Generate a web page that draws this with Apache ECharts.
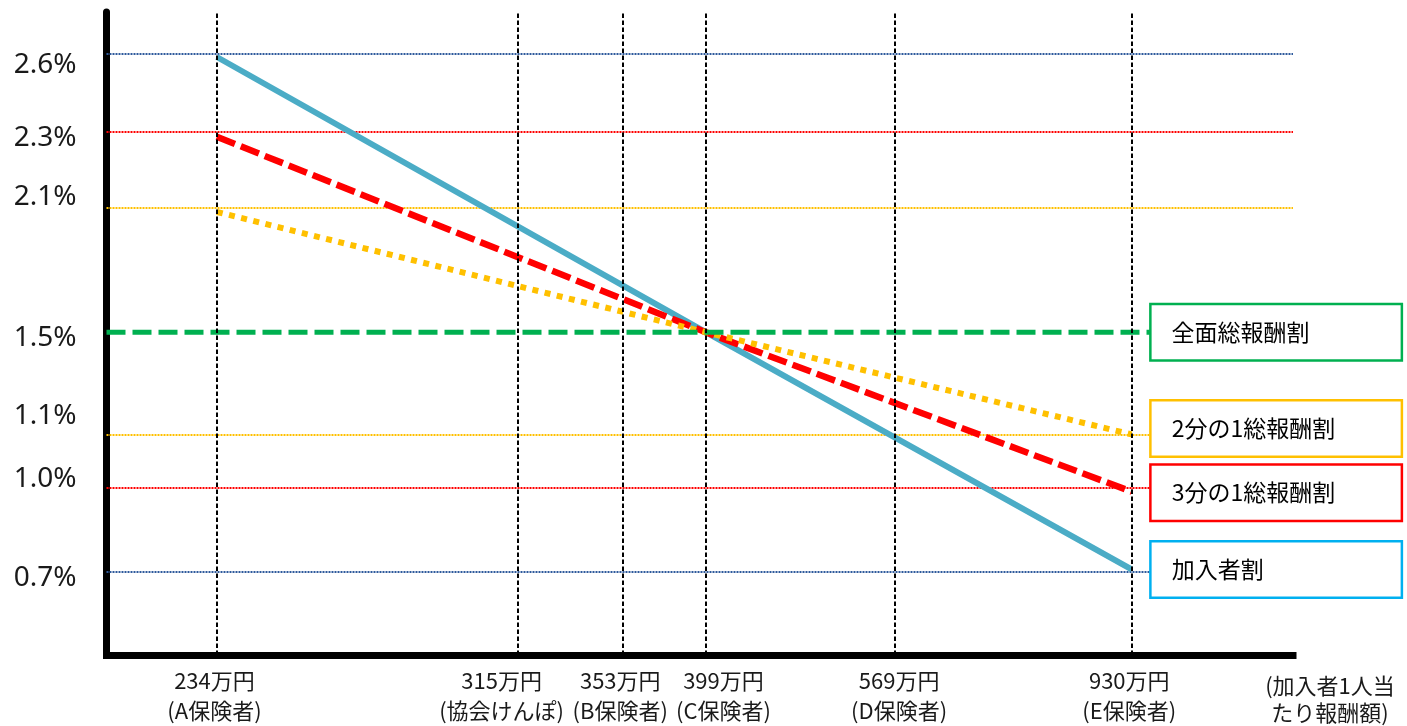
<!DOCTYPE html>
<html>
<head>
<meta charset="utf-8">
<script src="https://cdn.jsdelivr.net/npm/echarts@6/dist/echarts.min.js"></script>
<style>
html,body{margin:0;padding:0;background:#fff;}
#chart{width:1407px;height:726px;}
</style>
</head>
<body>
<div id="chart"></div>
<script>
// Schematic chart: both axes are drawn out of scale in the original, so values are
// positions read off the picture on 0–100 schematic axes.
const incomeLabels = ['234万円\n(A保険者)', '315万円\n(協会けんぽ)', '353万円\n(B保険者)', '399万円\n(C保険者)', '569万円\n(D保険者)', '930万円\n(E保険者)'];
const incomeX = [9.3, 34.7, 43.5, 50.5, 66.4, 86.4];
const incomeLabelX = [9.1, 33.3, 43.3, 52.0, 66.8, 86.2];
const xAxisName = '(加入者1人当\nたり報酬額)';

const rateLabels = ['2.6%', '2.3%', '2.1%', '1.5%', '1.1%', '1.0%', '0.7%'];
const rateLevels = [93.5, 81.3, 69.5, 50.2, 34.3, 26.0, 13.0];
const rateLabelLevels = [91.8, 80.4, 71.3, 49.3, 37.1, 27.3, 12.0];

const seriesNames = ['加入者割', '3分の1総報酬割', '2分の1総報酬割', '全面総報酬割'];
const kanyushaWari = [[9.3, 93.0], [50.5, 50.2], [86.4, 13.3]];
const sanbunNoIchi = [[9.3, 80.6], [50.5, 50.2], [86.4, 25.4]];
const nibunNoIchi = [[9.3, 68.9], [50.5, 50.2], [86.4, 34.3]];
const zenmen = [[0, 50.2], [88, 50.2]];

// styles
const FONT_JP = '"Noto Sans CJK JP", sans-serif';
const refColors = ['#2e5a9c', '#ff0000', '#ffc000', null, '#ffc000', '#ff0000', '#2e5a9c'];

function findIdx(arr, v) {
  for (let i = 0; i < arr.length; i++) if (Math.abs(arr[i] - v) < 1e-6) return i;
  return -1;
}

function boxLabel(border, distance, dy) {
  return {
    show: true,
    formatter: p => p.seriesName,
    distance: distance,
    offset: [0, dy || 0],
    color: '#000',
    fontSize: 23,
    fontFamily: FONT_JP,
    backgroundColor: '#fff',
    borderColor: border,
    borderWidth: 2.5,
    padding: [15, 0, 15, 20],
    width: 229,
    lineHeight: 24,
    align: 'left'
  };
}

const chart = echarts.init(document.getElementById('chart'));
chart.setOption({
  animation: false,
  grid: { left: 106.5, right: 114, top: 12, bottom: 70.5 },
  xAxis: {
    type: 'value', min: 0, max: 100,
    name: xAxisName,
    nameLocation: 'end',
    nameGap: 37,
    nameTextStyle: {
      align: 'center', verticalAlign: 'top', padding: [17, 0, 0, 0],
      fontSize: 22, lineHeight: 27, fontFamily: FONT_JP, color: '#1a1a1a'
    },
    axisLine: { onZero: false, lineStyle: { color: '#000', width: 7, cap: 'square' } },
    axisTick: { show: false },
    splitLine: { show: false },
    axisLabel: {
      customValues: incomeLabelX,
      formatter: v => { const i = findIdx(incomeLabelX, v); return i >= 0 ? incomeLabels[i] : ''; },
      margin: 11, lineHeight: 30, fontSize: 22, fontFamily: FONT_JP, color: '#1a1a1a'
    }
  },
  yAxis: {
    type: 'value', min: 0, max: 100,
    axisLine: { show: true, onZero: false, lineStyle: { color: '#000', width: 7 } },
    axisTick: { show: false },
    splitLine: { show: false },
    axisLabel: {
      customValues: rateLabelLevels,
      formatter: v => { const i = findIdx(rateLabelLevels, v); return i >= 0 ? rateLabels[i] : ''; },
      margin: 30, fontSize: 28, fontFamily: '"Noto Sans", sans-serif', color: '#1a1a1a'
    }
  },
  series: [
    {
      type: 'line', name: 'refLines', data: [], silent: true, z: 1,
      markLine: {
        silent: true, z: 1, symbol: ['none', 'none'], label: { show: false },
        emphasis: { disabled: true },
        data: rateLevels.map((lv, i) => ({ yAxis: lv, lineStyle: { color: refColors[i] } }))
          .filter((d, i) => refColors[i] !== null),
        lineStyle: { width: 2, type: [2, 1] }
      }
    },
    {
      type: 'line', name: seriesNames[0], data: kanyushaWari, symbol: 'none', z: 2,
      lineStyle: { color: '#4bacc6', width: 6, cap: 'butt' },
      endLabel: boxLabel('#00b0f0', 20), silent: true
    },
    {
      type: 'line', name: seriesNames[1], data: sanbunNoIchi, symbol: 'none', z: 3,
      lineStyle: { color: '#ff0000', width: 6.5, type: [19.5, 6.3], cap: 'butt' },
      endLabel: boxLabel('#ff0000', 20, 1), silent: true
    },
    {
      type: 'line', name: seriesNames[2], data: nibunNoIchi, symbol: 'none', z: 4,
      lineStyle: { color: '#ffc000', width: 6, type: [6, 6.5], cap: 'butt' },
      endLabel: boxLabel('#ffc000', 20, -6), silent: true
    },
    {
      type: 'line', name: seriesNames[3], data: zenmen, symbol: 'none', z: 5,
      lineStyle: { color: '#00b050', width: 5, type: [19, 7], cap: 'butt' },
      endLabel: boxLabel('#00b050', 1), silent: true
    },
    {
      type: 'line', name: 'incomeLines', data: [], silent: true, z: 6,
      markLine: {
        silent: true, z: 6, symbol: ['none', 'none'], label: { show: false },
        emphasis: { disabled: true },
        data: incomeX.map(x => ({ xAxis: x })),
        lineStyle: { color: '#000', width: 2, type: [4.5, 2.5] }
      }
    }
  ]
});
</script>
</body>
</html>
